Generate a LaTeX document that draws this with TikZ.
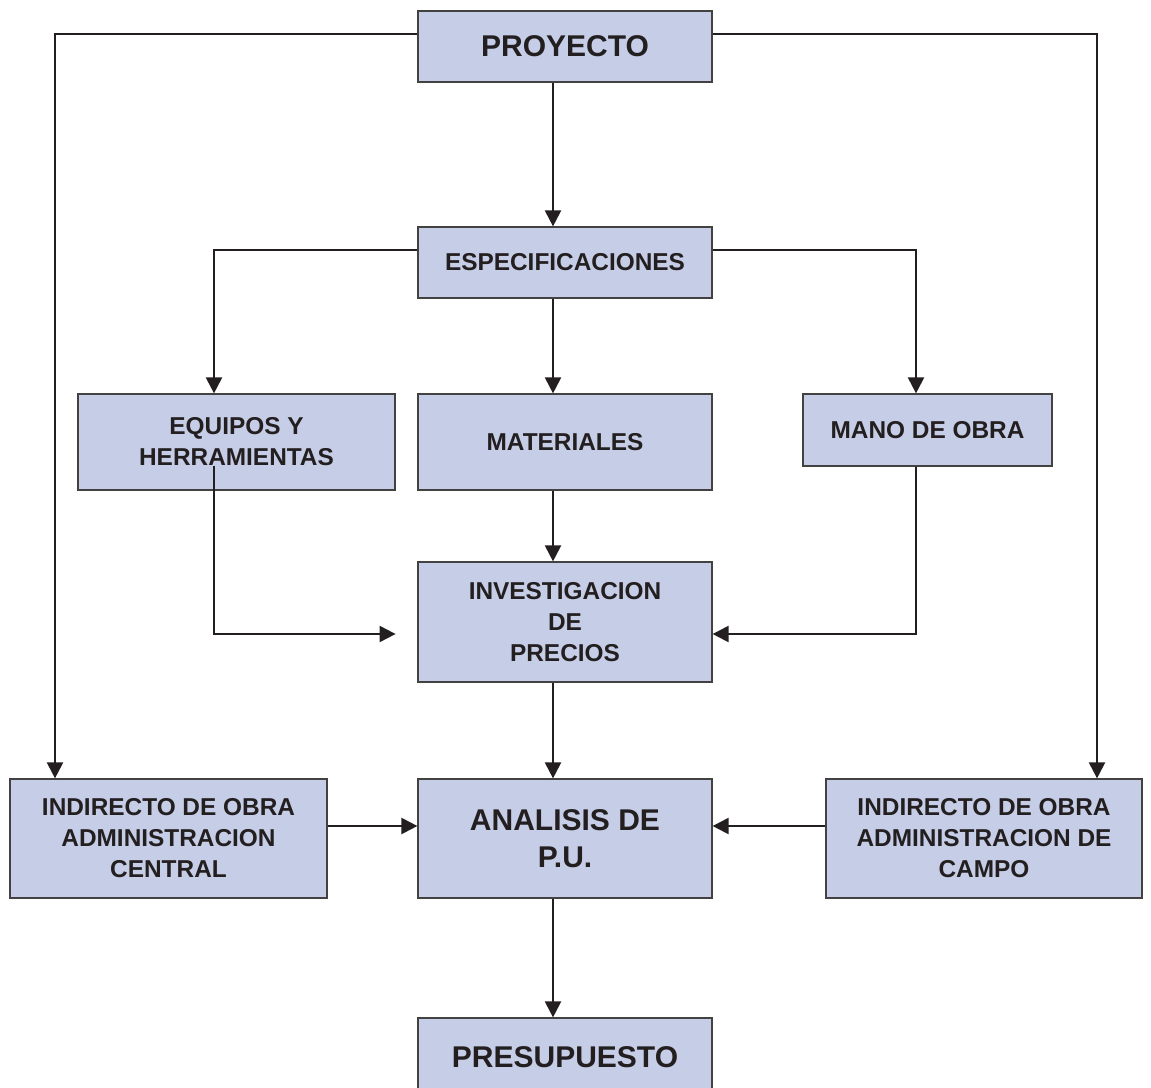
\documentclass[tikz,border=0pt]{standalone}
\usepackage{fontspec}
\setmainfont{Liberation Sans}
\usetikzlibrary{arrows.meta,calc}
\definecolor{boxfill}{HTML}{C6CDE6}
\definecolor{ink}{HTML}{231F20}
\begin{document}
\begin{tikzpicture}[x=0.75pt,y=-0.75pt,
 box/.style={draw=ink!85, line width=0.9pt, fill=boxfill, text=ink, font=\bfseries\fontsize{18.3}{23.25}\selectfont, align=center, inner sep=0pt},
 big/.style={box, font=\bfseries\fontsize{22.5}{27.75}\selectfont},
 arr/.style={draw=ink, line width=1.6pt, -{Triangle[length=12pt,width=12pt]}}]
\useasboundingbox (0,0) rectangle (1151,1087);
\clip (0,0) rectangle (1151,1087);
\node[big, minimum width=220.5pt, minimum height=53.25pt] (pro) at (565,46.5) {PROYECTO};
\node[box, minimum width=220.5pt, minimum height=53.25pt] (spec) at (565,262.5) {ESPECIFICACIONES};
\node[box, minimum width=237.75pt, minimum height=72pt] (equ) at (236.5,442) {EQUIPOS Y\\HERRAMIENTAS};
\node[box, minimum width=220.5pt, minimum height=72pt] (mat) at (565,442) {MATERIALES};
\node[box, minimum width=186.75pt, minimum height=54pt] (mano) at (927.5,430) {MANO DE OBRA};
\node[box, minimum width=220.5pt, minimum height=90pt] (inv) at (565,622) {INVESTIGACION\\DE\\PRECIOS};
\node[box, minimum width=237.75pt, minimum height=89.25pt] (cen) at (168.5,838.5) {INDIRECTO DE OBRA\\ADMINISTRACION\\CENTRAL};
\node[big, minimum width=220.5pt, minimum height=89.25pt] (ana) at (565,838.5) {ANALISIS DE\\P.U.};
\node[box, minimum width=237pt, minimum height=89.25pt] (cam) at (984,838.5) {INDIRECTO DE OBRA\\ADMINISTRACION DE\\CAMPO};
\node[big, minimum width=220.5pt, minimum height=58.5pt] (pre) at (565,1057) {PRESUPUESTO};
\coordinate (yP) at (0,34);
\coordinate (xL) at (55,0);
\coordinate (xR) at (1097,0);
\coordinate (xC) at (553,0);
\coordinate (yS) at (0,250);
\coordinate (xE) at (214,0);
\coordinate (xM) at (916,0);
\coordinate (eqs) at (214,466);
\coordinate (yI) at (0,634);
\coordinate (yA) at (0,826);
\draw[arr] (pro.west |- yP) -| (cen.north -| xL);
\draw[arr] (pro.east |- yP) -| (cam.north -| xR);
\draw[arr] (pro.south -| xC) -- (spec.north -| xC);
\draw[arr] (spec.west |- yS) -| (equ.north -| xE);
\draw[arr] (spec.east |- yS) -| (mano.north -| xM);
\draw[arr] (spec.south -| xC) -- (mat.north -| xC);
\draw[arr] (mat.south -| xC) -- (inv.north -| xC);
\draw[arr] (eqs) |- (equ.east |- yI);
\draw[arr] (mano.south -| xM) |- (inv.east |- yI);
\draw[arr] (inv.south -| xC) -- (ana.north -| xC);
\draw[arr] (cen.east |- yA) -- (ana.west |- yA);
\draw[arr] (cam.west |- yA) -- (ana.east |- yA);
\draw[arr] (ana.south -| xC) -- (pre.north -| xC);
\end{tikzpicture}
\end{document}
